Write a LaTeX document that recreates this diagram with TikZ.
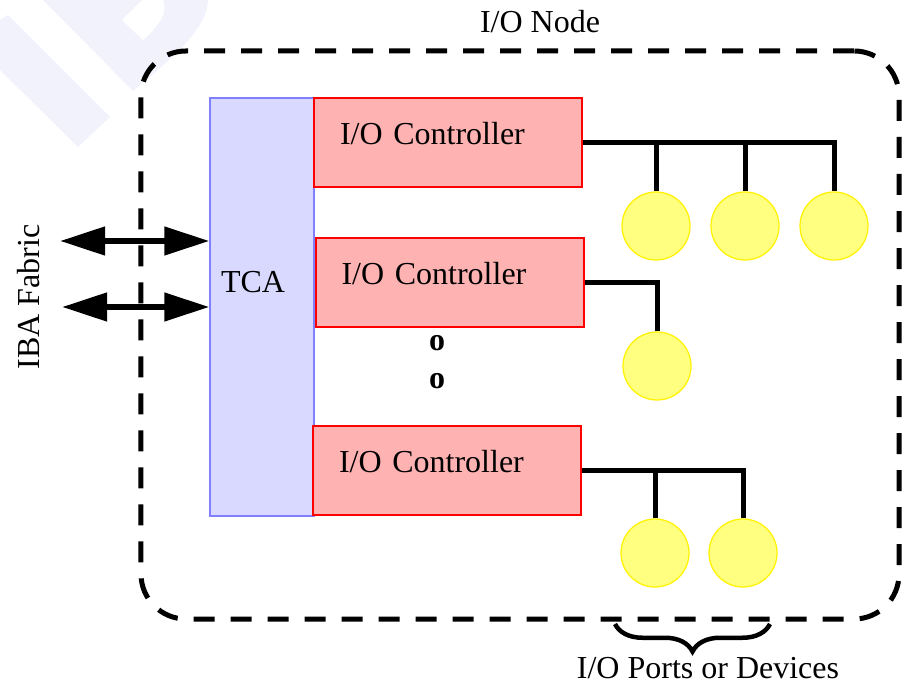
\documentclass[tikz,border=0pt]{standalone}
\usepackage{fontspec}
\setmainfont{Liberation Serif}
\usetikzlibrary{arrows.meta,decorations.pathreplacing}
\definecolor{TcaClr}{RGB}{217,217,255}
\definecolor{TcaLineClr}{RGB}{128,128,255}
\definecolor{CtrlClr}{RGB}{255,178,178}
\definecolor{DevClr}{RGB}{255,255,128}
\definecolor{DevLineClr}{RGB}{255,242,0}
\definecolor{MarkClr}{RGB}{242,242,252}

\begin{document}
\begin{tikzpicture}[x=0.4pt,y=-0.4pt,
  font=\fontsize{12.8}{15}\selectfont,
  iobox/.style={draw,line width=2pt,dash pattern=on 8.4pt off 6.4pt,rounded corners=18pt,
    minimum width=303.2pt,minimum height=227.2pt,inner sep=0pt},
  tcabox/.style={draw=TcaLineClr,fill=TcaClr,line width=0.5pt,
    minimum width=41.6pt,minimum height=167.2pt,inner sep=0pt},
  ctrlbox/.style={draw=red,fill=CtrlClr,line width=0.8pt,minimum height=35.6pt,
    inner xsep=10.4pt,text width=86.4pt,text depth=7pt,align=left},
  device/.style={circle,draw=DevLineClr,fill=DevClr,line width=0.5pt,
    minimum size=27.2pt,inner sep=0pt},
  bus/.style={line width=2pt},
  fabarrow/.style={line width=2.4pt,
    {Triangle[length=18pt,width=11pt]}-{Triangle[length=18pt,width=11pt]}}]
\useasboundingbox (0,0) rectangle (910,684);

% watermark
\fill[MarkClr] (0,20) -- (8,15) -- (110,117) -- (78,147) -- (0,70) -- cycle;
\fill[MarkClr] (43,0) -- (133,91) .. controls (170,60) and (207,30) .. (208,0) -- cycle;
\fill[white] (142,0) -- (122,20) -- (143,40) .. controls (160,25) and (168,12) .. (163,0) -- cycle;

\node[iobox] (ionode) at (520,335) {};
\node (ionodelbl) at (540,22) {I/O Node};

\node[tcabox] (tca) at (262,307) {};
\node (tcalbl) at (253,282) {TCA};

\node[ctrlbox] (ctrlA) at (448,142.5) {I/O Controller};
\node[ctrlbox] (ctrlB) at (449.5,282.5) {I/O Controller};
\node[ctrlbox] (ctrlC) at (447,470) {I/O Controller};
\node (dotA) at (437,343) {\textbf{o}};
\node (dotB) at (437,381) {\textbf{o}};

\node[device] (devA1) at (656,226) {};
\node[device] (devA2) at (745,226) {};
\node[device] (devA3) at (834,226) {};
\node[device] (devB1) at (657,366) {};
\node[device] (devC1) at (655,553) {};
\node[device] (devC2) at (743,553) {};

\draw[bus] (ctrlA.east) -| (devA3.north);
\foreach \d in {devA1,devA2}
  \draw[bus] (ctrlA.east -| \d) -- (\d.north);
\draw[bus] (ctrlB.east) -| (devB1.north);
\draw[bus] (ctrlC.east) -| (devC2.north);
\draw[bus] (ctrlC.east -| devC1) -- (devC1.north);

\coordinate (fabA) at (60,241);
\coordinate (fabB) at (62,307);
\draw[fabarrow] (fabA) -- (fabA -| tca.west);
\draw[fabarrow] (fabB) -- (fabB -| tca.west);
\node[rotate=90] (fabric) at (29,297) {IBA Fabric};

\coordinate (braceL) at (615,624);
\coordinate (braceR) at (770,624);
\draw[decorate,decoration={brace,mirror,amplitude=11pt},line width=1.8pt] (braceL) -- (braceR);
\node (portslbl) at (708,668) {I/O Ports or Devices};
\end{tikzpicture}
\end{document}
